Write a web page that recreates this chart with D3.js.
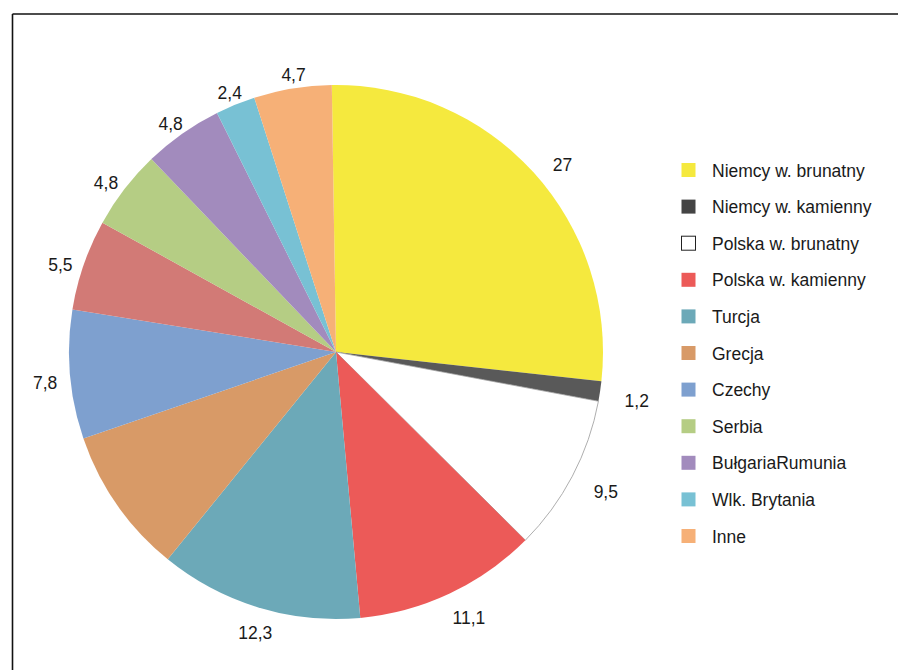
<!DOCTYPE html>
<html>
<head>
<meta charset="utf-8">
<script src="https://cdn.jsdelivr.net/npm/d3@7/dist/d3.min.js"></script>
<style>
  html, body { margin: 0; padding: 0; background: #fff; }
  svg { display: block; }
  text { font-family: "Liberation Sans", Arial, sans-serif; fill: #1a1a1a; }
</style>
</head>
<body>
<svg id="chart" width="898" height="670"></svg>
<script>
// 12 slices; the 8th slice has no legend entry, Grecja has no visible data label
const categories = ["Niemcy w. brunatny", "Niemcy w. kamienny", "Polska w. brunatny", "Polska w. kamienny",
  "Turcja", "Grecja", "Czechy", "", "Serbia", "BułgariaRumunia", "Wlk. Brytania", "Inne"];
const values = [27, 1.2, 9.5, 11.1, 12.3, 8.9, 7.8, 5.5, 4.8, 4.8, 2.4, 4.7];
const dataLabels = ["27", "1,2", "9,5", "11,1", "12,3", "", "7,8", "5,5", "4,8", "4,8", "2,4", "4,7"];
const sliceColors = ["#f5e93e", "#595959", "#ffffff", "#ec5a58", "#6ca9b8", "#d89a67", "#7ea0cf",
  "#d27a76", "#b5cd84", "#a28bbd", "#78c1d4", "#f6b077"];
const legendSwatchColors = ["#f5e93e", "#444444", "#ffffff", "#ec5a58", "#6ca9b8", "#d89a67", "#7ea0cf",
  "#d27a76", "#b5cd84", "#a28bbd", "#78c1d4", "#f6b077"];

const svg = d3.select("#chart");

// frame: top and left lines only
svg.append("line").attr("x1", 12.5).attr("y1", 14).attr("x2", 898).attr("y2", 14)
  .attr("stroke", "#111").attr("stroke-width", 1.6);
svg.append("line").attr("x1", 12.5).attr("y1", 14).attr("x2", 12.5).attr("y2", 670)
  .attr("stroke", "#111").attr("stroke-width", 1.6);

const cx = 336, cy = 352, R = 267;
// label placement: ellipse around the pie, slightly shifted right/down
const lrx = 298, lry = 287, lox = 6, loy = 6.5;
const data = values.map((v, i) => ({ name: categories[i], value: v, label: dataLabels[i], color: sliceColors[i], lc: legendSwatchColors[i] }));

const start = -0.9 * Math.PI / 180;
const pie = d3.pie().value(d => d.value).sort(null).startAngle(start).endAngle(start + 2 * Math.PI);
const arcs = pie(data);
const arc = d3.arc().innerRadius(0).outerRadius(R);

const g = svg.append("g").attr("transform", `translate(${cx},${cy})`);
g.selectAll("path").data(arcs).enter().append("path")
  .attr("d", arc)
  .attr("fill", d => d.data.color)
  .attr("stroke", d => d.data.color === "#ffffff" ? "#999" : "none")
  .attr("stroke-width", d => d.data.color === "#ffffff" ? 0.8 : 0);

const mid = d => (d.startAngle + d.endAngle) / 2;
g.selectAll("text.lbl").data(arcs.filter(d => d.data.label)).enter().append("text")
  .attr("class", "lbl")
  .attr("x", d => lox + lrx * Math.sin(mid(d)))
  .attr("y", d => loy - lry * Math.cos(mid(d)))
  .attr("text-anchor", "middle")
  .attr("dominant-baseline", "central")
  .attr("font-size", 17.5)
  .text(d => d.data.label);

// legend
const legendData = data.filter(d => d.name);
const ly = d3.scalePoint().domain(legendData.map(d => d.name)).range([170, 536]);
const lg = svg.append("g");
const items = lg.selectAll("g").data(legendData).enter().append("g")
  .attr("transform", d => `translate(681,${ly(d.name)})`);
items.append("rect")
  .attr("x", 0.5).attr("y", -7)
  .attr("width", 14).attr("height", 14)
  .attr("fill", d => d.lc)
  .attr("stroke", d => d.lc === "#ffffff" ? "#222" : "none")
  .attr("stroke-width", 1);
items.append("text")
  .attr("x", 31).attr("y", 0.5)
  .attr("dominant-baseline", "central")
  .attr("font-size", 17.5)
  .text(d => d.name);
</script>
</body>
</html>
